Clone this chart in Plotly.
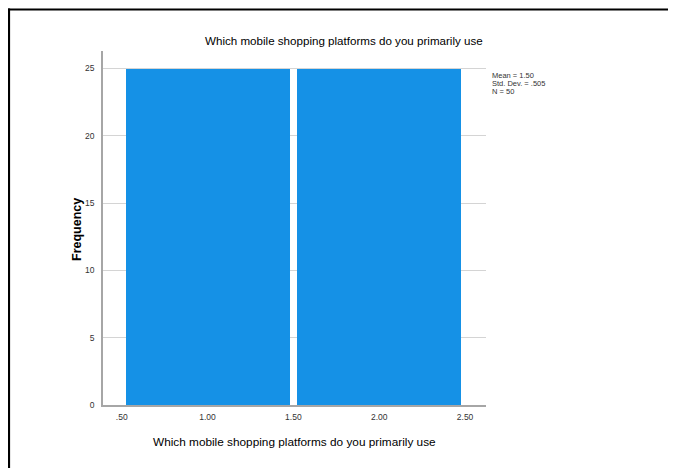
import plotly.graph_objects as go

# Data
categories = [1.0, 2.0]
frequencies = [25, 25]
x_tick_vals = [0.5, 1.0, 1.5, 2.0, 2.5]
x_tick_text = [".50", "1.00", "1.50", "2.00", "2.50"]
y_tick_vals = [0, 5, 10, 15, 20, 25]
stats_lines = ["Mean = 1.50", "Std. Dev. = .505", "N = 50"]
title_text = "Which mobile shopping platforms do you primarily use"

OFF = 8  # page body margin
W, H = 676 - OFF, 468 - OFF
L, R, T, B = 103 - OFF, 486 - OFF, 51 - OFF, 405 - OFF

fig = go.Figure()
fig.add_trace(go.Bar(
    x=categories, y=frequencies, width=0.955,
    marker=dict(color="#1591E6", line=dict(width=0)),
    hoverinfo="x+y",
))

def px_x(px):
    return (px - OFF - L) / (R - L)

def px_y(py):
    return (B - (py - OFF)) / (B - T)

fig.update_layout(
    width=W, height=H,
    margin=dict(l=L, r=W - R, t=T, b=H - B, pad=0),
    paper_bgcolor="white", plot_bgcolor="white",
    showlegend=False,
    font=dict(family="Liberation Sans, Arial, sans-serif", color="#222"),
    xaxis=dict(
        range=[0.391, 2.622], tickvals=x_tick_vals, ticktext=x_tick_text,
        showgrid=False, zeroline=False, showline=True, linecolor="#a6a6a6",
        linewidth=1.5, ticks="", tickfont=dict(size=8.5, color="#333"),
        ticklabelstandoff=3,
    ),
    yaxis=dict(
        range=[0, 26.3], tickvals=y_tick_vals, showgrid=True,
        gridcolor="#d4d4d4", gridwidth=1, zeroline=False, showline=True,
        linecolor="#a6a6a6", linewidth=1.5, ticks="",
        tickfont=dict(size=8.5, color="#333"), ticklabelstandoff=5,
    ),
    bargap=0,
)

annotations = [
    dict(text=title_text, x=px_x(344), y=px_y(40), xref="paper", yref="paper",
         showarrow=False, xanchor="center", yanchor="middle",
         font=dict(size=11.6, color="#000")),
    dict(text=title_text, x=px_x(294), y=px_y(442), xref="paper", yref="paper",
         showarrow=False, xanchor="center", yanchor="middle",
         font=dict(size=11.8, color="#000")),
    dict(text="<b>Frequency</b>", x=px_x(77), y=px_y(230), xref="paper", yref="paper",
         showarrow=False, xanchor="center", yanchor="middle", textangle=-90,
         font=dict(size=12.5, color="#000")),
]
for i, line in enumerate(stats_lines):
    annotations.append(dict(
        text=line, x=px_x(490), y=px_y(75 + 8.3 * i), xref="paper", yref="paper",
        showarrow=False, xanchor="left", yanchor="middle",
        font=dict(size=7.5, color="#333")))
fig.update_layout(annotations=annotations)

# outer frame: top and left edges
fig.add_shape(type="line", xref="paper", yref="paper",
              x0=px_x(8), x1=px_x(700), y0=px_y(9.5), y1=px_y(9.5),
              line=dict(color="black", width=2.2), layer="above")
fig.add_shape(type="line", xref="paper", yref="paper",
              x0=px_x(9), x1=px_x(9), y0=px_y(8.5), y1=px_y(500),
              line=dict(color="black", width=2.2), layer="above")

fig.write_html("out.html")
